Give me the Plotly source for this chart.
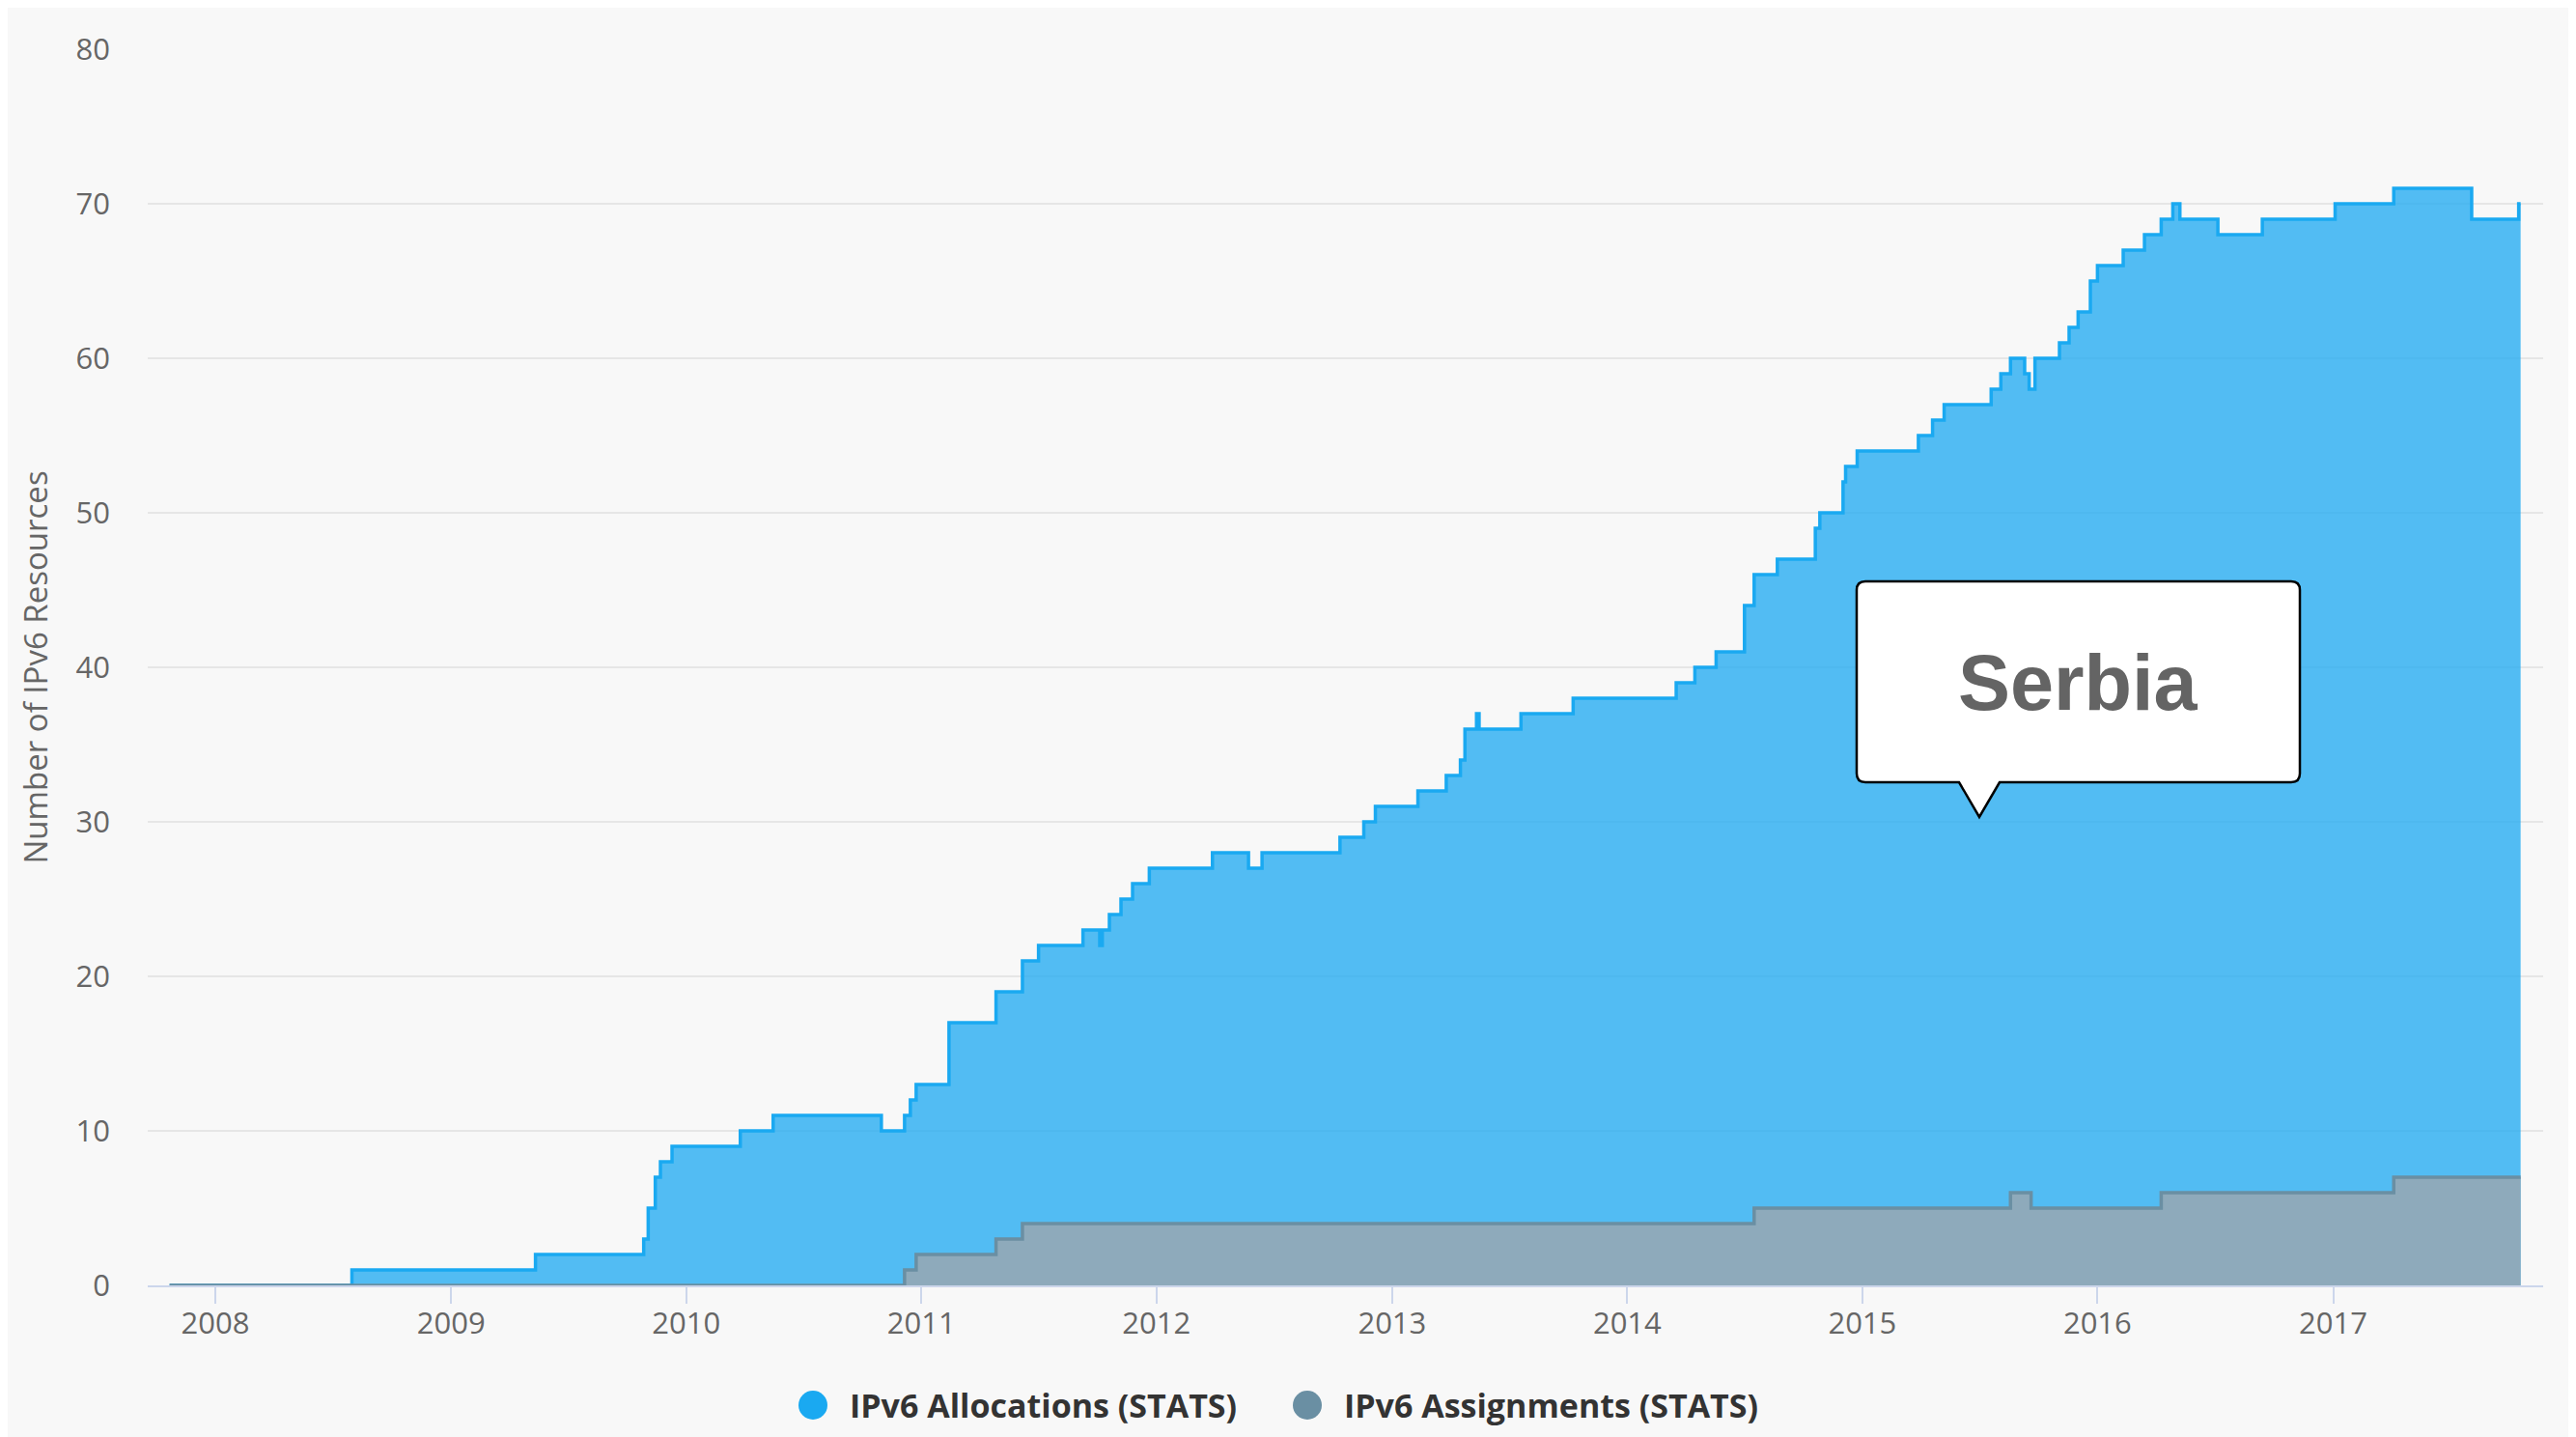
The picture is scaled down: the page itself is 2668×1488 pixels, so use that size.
import plotly.graph_objects as go

# ---------------- data ----------------
alloc_dates = [
    "2007-10-22", "2008-07-31", "2009-05-12", "2009-10-27", "2009-11-03", "2009-11-14",
    "2009-11-22", "2009-12-10", "2010-03-26", "2010-05-16", "2010-10-31", "2010-12-06",
    "2010-12-15", "2010-12-24", "2011-02-13", "2011-04-27", "2011-06-07", "2011-07-02",
    "2011-09-09", "2011-10-05", "2011-10-09", "2011-10-20", "2011-11-07", "2011-11-25",
    "2011-12-21", "2012-03-28", "2012-05-23", "2012-06-13", "2012-10-12", "2012-11-18",
    "2012-12-06", "2013-02-10", "2013-03-26", "2013-04-17", "2013-04-24", "2013-05-12",
    "2013-05-16", "2013-07-20", "2013-10-09", "2014-03-18", "2014-04-16", "2014-05-19",
    "2014-07-02", "2014-07-17", "2014-08-22", "2014-10-20", "2014-10-27", "2014-12-02",
    "2014-12-06", "2014-12-24", "2015-03-29", "2015-04-20", "2015-05-08", "2015-07-20",
    "2015-08-04", "2015-08-19", "2015-09-10", "2015-09-17", "2015-09-26", "2015-11-03",
    "2015-11-18", "2015-12-02", "2015-12-21", "2016-01-01", "2016-02-10", "2016-03-14",
    "2016-04-09", "2016-04-27", "2016-05-08", "2016-07-06", "2016-09-13", "2017-01-04",
    "2017-04-05", "2017-08-04", "2017-10-16", "2017-10-19",
]
alloc_values = [
    0, 1, 2, 3, 5, 7,
    8, 9, 10, 11, 10, 11,
    12, 13, 17, 19, 21, 22,
    23, 22, 23, 24, 25, 26,
    27, 28, 27, 28, 29, 30,
    31, 32, 33, 34, 36, 37,
    36, 37, 38, 39, 40, 41,
    44, 46, 47, 49, 50, 52,
    53, 54, 55, 56, 57, 58,
    59, 60, 59, 58, 60, 61,
    62, 63, 65, 66, 67, 68,
    69, 70, 69, 68, 69, 70,
    71, 69, 70, 70,
]

assign_dates = [
    "2007-10-22", "2010-12-06", "2010-12-24", "2011-04-27", "2011-06-07", "2014-07-17",
    "2015-08-19", "2015-09-20", "2016-04-09", "2017-04-05", "2017-10-19",
]
assign_values = [0, 1, 2, 3, 4, 5, 6, 5, 6, 7, 7]

year_labels = [str(y) for y in range(2008, 2018)]
year_tickvals = [f"{y}-01-01" for y in range(2008, 2018)]
y_ticks = list(range(0, 90, 10))

series_names = ["IPv6 Allocations (STATS)", "IPv6 Assignments (STATS)"]
callout_text = "Serbia"

# ---------------- layout geometry ----------------
PAGE_OFF = 8                      # page body margin
W, H = 2668 - PAGE_OFF, 1488 - PAGE_OFF
ML, MT = 153 - PAGE_OFF, 51 - PAGE_OFF
MR = W - (2634 - PAGE_OFF)
MB = H - (1331 - PAGE_OFF)
PW, PH = W - ML - MR, H - MT - MB


def to_paper(x, y):
    """page pixel -> paper fraction"""
    fx, fy = x - PAGE_OFF, y - PAGE_OFF
    return (fx - ML) / PW, (H - MB - fy) / PH


def path_from_px(cmds):
    out = []
    for c in cmds:
        op, pts = c[0], c[1:]
        coords = []
        for i in range(0, len(pts), 2):
            px, py = to_paper(pts[i], pts[i + 1])
            coords.append(f"{px:.5f},{py:.5f}")
        out.append(op + " " + " ".join(coords))
    return " ".join(out) + " Z"


BLUE = "#1aa9f1"
GREY = "#6a8fa3"

fig = go.Figure()
fig.add_trace(go.Scatter(
    x=alloc_dates, y=alloc_values, name=series_names[0], mode="lines",
    line=dict(shape="hv", color=BLUE, width=3.5),
    fill="tozeroy", fillcolor="rgba(27,168,241,0.75)", showlegend=False,
))
fig.add_trace(go.Scatter(
    x=assign_dates, y=assign_values, name=series_names[1], mode="lines",
    line=dict(shape="hv", color=GREY, width=3.5),
    fill="tozeroy", fillcolor="#8eaabb", showlegend=False,
))

shapes = []
# callout bubble
L, R, T, B, r = 1923, 2382, 602, 810, 9
tip_x, tip_y, base_l, base_r = 2050, 846, 2029, 2071
bubble = path_from_px([
    ("M", L + r, T), ("L", R - r, T), ("Q", R, T, R, T + r), ("L", R, B - r),
    ("Q", R, B, R - r, B), ("L", base_r, B), ("L", tip_x, tip_y), ("L", base_l, B),
    ("L", L + r, B), ("Q", L, B, L, B - r), ("L", L, T + r), ("Q", L, T, L + r, T),
])
shapes.append(dict(type="path", xref="paper", yref="paper", path=bubble,
                   fillcolor="white", line=dict(color="black", width=2.5), layer="above"))

# legend dots
for cx, col in [(842, BLUE), (1354, GREY)]:
    ax0, ay0 = to_paper(cx - 15, 1455 + 15)
    ax1, ay1 = to_paper(cx + 15, 1455 - 15)
    shapes.append(dict(type="circle", xref="paper", yref="paper", x0=ax0, y0=ay0, x1=ax1, y1=ay1,
                       fillcolor=col, line=dict(width=0)))

annotations = []
tx, ty = to_paper(2152, 707)
annotations.append(dict(xref="paper", yref="paper", x=tx, y=ty, text=f"<b>{callout_text}</b>",
                        showarrow=False, xanchor="center", yanchor="middle",
                        font=dict(family="Liberation Sans, Arial", size=81, color="#646464")))
for lx, name in [(878, series_names[0]), (1390, series_names[1])]:
    ax_, ay_ = to_paper(lx, 1455)
    annotations.append(dict(xref="paper", yref="paper", x=ax_, y=ay_, text=f"<b>{name}</b>",
                            showarrow=False, xanchor="left", yanchor="middle",
                            font=dict(family="Open Sans", size=34, color="#333333")))

fig.update_layout(
    width=W, height=H,
    margin=dict(l=ML, r=MR, t=MT, b=MB, autoexpand=False),
    paper_bgcolor="#f8f8f8", plot_bgcolor="#f8f8f8",
    showlegend=False,
    shapes=shapes, annotations=annotations,
    font=dict(family="Open Sans", color="#666666"),
)
fig.update_xaxes(
    type="date", range=["2007-09-18", "2017-11-23"],
    tickvals=year_tickvals, ticktext=year_labels,
    ticks="outside", ticklen=17, tickwidth=2, tickcolor="#ccd6eb",
    showgrid=False, zeroline=False,
    showline=True, linecolor="#ccd6eb", linewidth=2,
    tickfont=dict(family="Open Sans", size=31, color="#666666"),
    ticklabelstandoff=-6,
)
fig.update_yaxes(
    range=[0, 80], tickvals=y_ticks,
    showgrid=True, gridcolor="#e6e6e6", gridwidth=2, zeroline=False,
    showline=False, ticks="",
    tickfont=dict(family="Open Sans", size=31, color="#666666"),
    ticklabelstandoff=38,
    title=dict(text="Number of IPv6 Resources", standoff=18,
               font=dict(family="Open Sans", size=33, color="#666666")),
)

fig.write_html("out.html")
